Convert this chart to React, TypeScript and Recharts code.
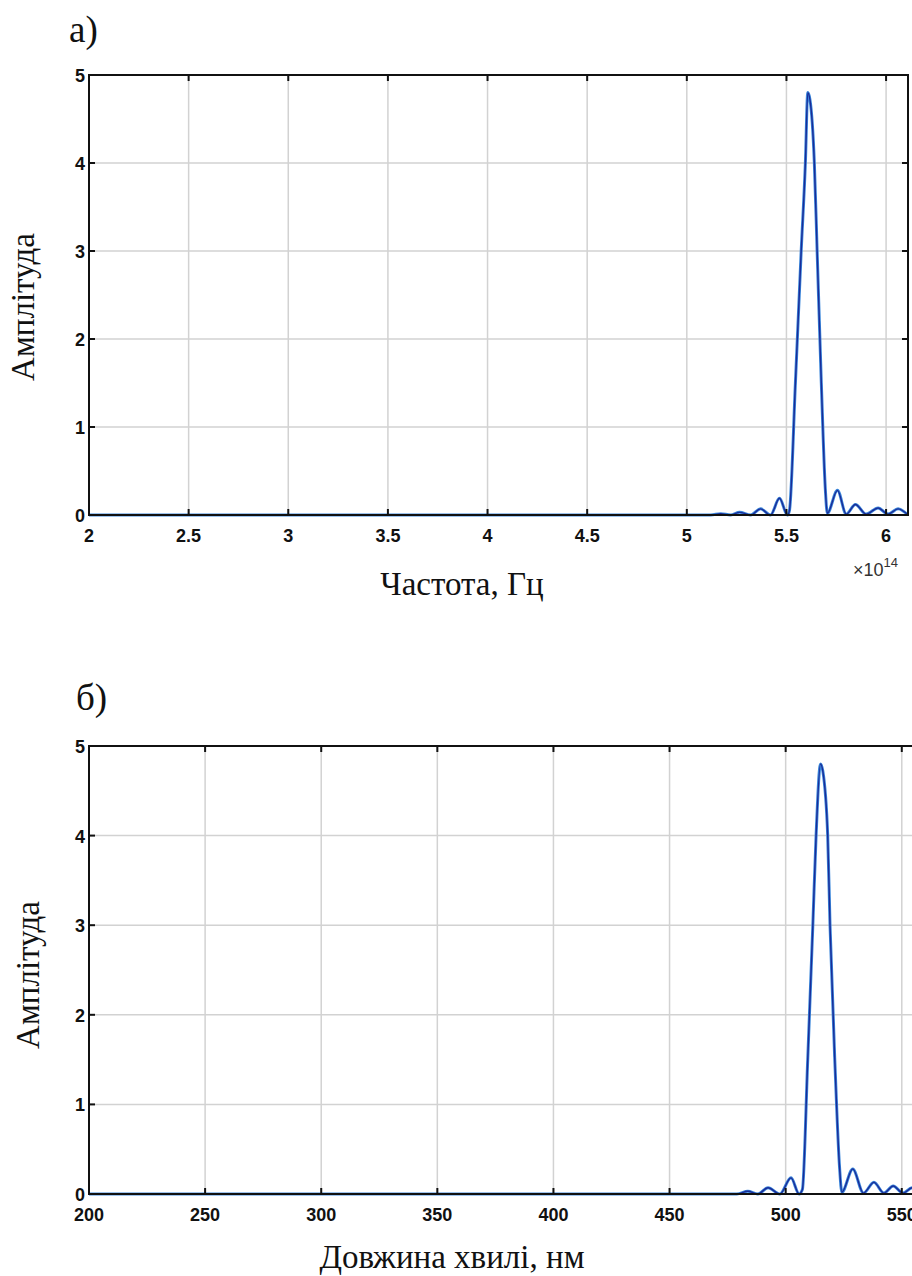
import React from 'react';
import { LineChart, Line, XAxis, YAxis, CartesianGrid } from 'recharts';

// а) spectrum vs frequency, x in units of 1e14 Hz
const freqTicks = [2, 2.5, 3, 3.5, 4, 4.5, 5, 5.5, 6];
const freqX = [
  2, 3, 4, 5, 5.12, 5.17, 5.22, 5.265, 5.32, 5.37, 5.42, 5.465, 5.505, 5.515,
  5.545, 5.574, 5.595, 5.607, 5.618, 5.64, 5.654, 5.675, 5.695, 5.705, 5.756,
  5.8, 5.846, 5.9, 5.96, 6.01, 6.06, 6.11,
];
const freqAmp = [
  0, 0, 0, 0, 0, 0.015, 0, 0.03, 0, 0.07, 0, 0.19, 0, 0.05,
  1.5, 3.0, 4.0, 4.8, 4.72, 4.0, 3.0, 1.5, 0.3, 0.02, 0.28,
  0.01, 0.12, 0.01, 0.08, 0.01, 0.07, 0,
];

// б) spectrum vs wavelength, nm
const waveTicks = [200, 250, 300, 350, 400, 450, 500, 550];
const waveX = [
  200, 300, 400, 470, 479, 483.7, 488, 492.4, 497.5, 502.3, 505.8, 507.2,
  509.5, 511.7, 513.1, 515.0, 516.0, 518.1, 519.1, 521.3, 523.2, 524.2, 528.9,
  533.5, 538, 542.3, 546.3, 550.5, 554.5, 558, 560,
];
const waveAmp = [
  0, 0, 0, 0, 0, 0.03, 0, 0.07, 0, 0.18, 0, 0.05,
  1.5, 3.0, 4.0, 4.8, 4.72, 4.0, 3.0, 1.4, 0.3, 0.02, 0.28,
  0.01, 0.13, 0.01, 0.09, 0.01, 0.07, 0.01, 0,
];

const ampTicks = [0, 1, 2, 3, 4, 5];

const topData = freqX.map((x, i) => ({ x, y: freqAmp[i] }));
const botData = waveX.map((x, i) => ({ x, y: waveAmp[i] }));

const sans = '"Liberation Sans", Arial, sans-serif';
const serif = '"Liberation Serif", "Times New Roman", serif';
const ink = '#111';

type Box = { left: number; top: number; right: number; bottom: number };

const makeXTick = (b: Box) => (props: any) => {
  const { x, payload } = props;
  return (
    <g>
      <line x1={x} x2={x} y1={b.bottom} y2={b.bottom - 6} stroke={ink} strokeWidth={2} />
      <line x1={x} x2={x} y1={b.top} y2={b.top + 6} stroke={ink} strokeWidth={2} />
      <text x={x} y={b.bottom + 27} textAnchor="middle" fontFamily={sans} fontSize={18} fontWeight={700} fill={ink}>
        {payload.value}
      </text>
    </g>
  );
};

const makeYTick = (b: Box) => (props: any) => {
  const { y, payload } = props;
  return (
    <g>
      <line x1={b.left} x2={b.left + 6} y1={y} y2={y} stroke={ink} strokeWidth={2} />
      <line x1={b.right - 6} x2={b.right} y1={y} y2={y} stroke={ink} strokeWidth={2} />
      <text x={b.left - 4} y={y + 7} textAnchor="end" fontFamily={sans} fontSize={18} fontWeight={700} fill={ink}>
        {payload.value}
      </text>
    </g>
  );
};

function Spectrum({ data, ticks, domain, width, height, box }: {
  data: { x: number; y: number }[];
  ticks: number[];
  domain: [number, number];
  width: number;
  height: number;
  box: Box;
}) {
  const yW = 40;
  const xH = 40;
  return (
    <LineChart
      width={width}
      height={height}
      data={data}
      margin={{ top: box.top, left: box.left - yW, right: width - box.right, bottom: height - box.bottom - xH }}
    >
      <CartesianGrid stroke="#d2d2d2" strokeWidth={1.5} />
      <XAxis
        type="number"
        dataKey="x"
        domain={domain}
        ticks={ticks}
        allowDataOverflow
        height={xH}
        axisLine={false}
        tickLine={false}
        tick={makeXTick(box)}
        interval={0}
      />
      <YAxis
        type="number"
        domain={[0, 5]}
        ticks={ampTicks}
        width={yW}
        axisLine={false}
        tickLine={false}
        tick={makeYTick(box)}
        interval={0}
      />
      <Line type="monotone" dataKey="y" stroke="#3a86da" strokeWidth={3} dot={false} isAnimationActive={false} />
      <Line type="monotone" dataKey="y" stroke="#1a2c98" strokeWidth={1.4} dot={false} isAnimationActive={false} />
    </LineChart>
  );
}

const topBox: Box = { left: 89, top: 75, right: 908, bottom: 515 };
const botOffset = 640;
const botBox: Box = { left: 89, top: 746 - botOffset, right: 925, bottom: 1194 - botOffset };

export default function App() {
  return (
    <div style={{ position: 'absolute', left: 0, top: 0, width: 912, height: 1276, overflow: 'hidden', background: '#fff' }}>
      <div style={{ position: 'absolute', left: 0, top: 0 }}>
        <Spectrum data={topData} ticks={freqTicks} domain={[2, 6.11]} width={912} height={600} box={topBox} />
      </div>
      <div style={{ position: 'absolute', left: 0, top: botOffset }}>
        <Spectrum data={botData} ticks={waveTicks} domain={[200, 560]} width={930} height={620} box={botBox} />
      </div>
      <svg width={912} height={1276} style={{ position: 'absolute', left: 0, top: 0, pointerEvents: 'none' }}>
        <rect x={89} y={75} width={819} height={440} fill="none" stroke={ink} strokeWidth={2} />
        <rect x={89} y={746} width={836} height={448} fill="none" stroke={ink} strokeWidth={2} />
        <text x={69} y={42} fontFamily={serif} fontSize={37} fill={ink}>а)</text>
        <text x={76} y={710} fontFamily={serif} fontSize={37} fill={ink}>б)</text>
        <text x={0} y={0} transform="translate(34 307) rotate(-90)" textAnchor="middle" fontFamily={serif} fontSize={33} fill={ink}>Амплітуда</text>
        <text x={0} y={0} transform="translate(39 975) rotate(-90)" textAnchor="middle" fontFamily={serif} fontSize={33} fill={ink}>Амплітуда</text>
        <text x={462} y={595} textAnchor="middle" fontFamily={serif} fontSize={33} fill={ink}>Частота, Гц</text>
        <text x={452} y={1268} textAnchor="middle" fontFamily={serif} fontSize={33} fill={ink}>Довжина хвилі, нм</text>
        <text x={853} y={576} fontFamily={sans} fontSize={18} fill="#333">
          ×10<tspan dy={-9} fontSize={13}>14</tspan>
        </text>
      </svg>
    </div>
  );
}
